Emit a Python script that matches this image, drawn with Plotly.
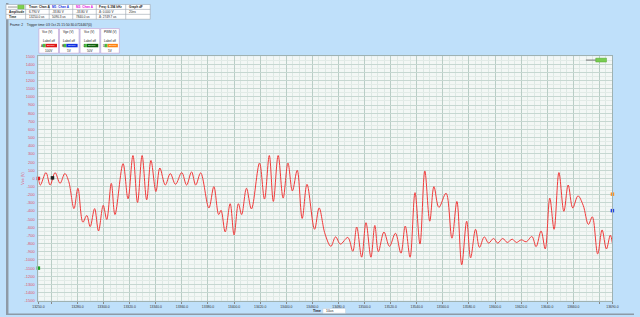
import plotly.graph_objects as go

W, H = 640, 317

# ---------------- data ----------------
time_us = [13250.0, 13251.5, 13255.8, 13259.0, 13262.8, 13266.6, 13270.3, 13273.3, 13277.3, 13280.3,
           13284.1, 13287.1, 13289.7, 13293.1, 13296.1, 13299.7, 13302.4, 13305.9, 13308.7, 13314.9,
           13318.7, 13322.5, 13326.0, 13329.5, 13333.0, 13336.3, 13340.1, 13343.1, 13347.3, 13351.1,
           13355.1, 13359.9, 13363.6, 13367.4, 13370.6, 13374.4, 13380.7, 13384.5, 13388.2, 13390.0,
           13393.2, 13397.0, 13400.0, 13403.3, 13405.8, 13409.5, 13413.3, 13419.5, 13423.3, 13427.0,
           13430.1, 13433.8, 13437.6, 13441.3, 13444.7, 13448.4, 13452.2, 13455.9, 13461.7, 13465.2,
           13469.7, 13474.2, 13477.8, 13481.5, 13487.2, 13491.0, 13494.0, 13497.8, 13501.1, 13504.9,
           13507.9, 13510.6, 13514.9, 13519.1, 13523.7, 13527.9, 13531.2, 13534.9, 13538.7, 13542.5,
           13546.2, 13550.0, 13553.2, 13557.0, 13562.5, 13567.0, 13570.8, 13574.5, 13578.3, 13581.3,
           13585.1, 13588.1, 13591.8, 13595.1, 13598.9, 13602.1, 13605.9, 13609.4, 13613.2, 13616.4,
           13620.2, 13623.9, 13628.3, 13631.5, 13635.3, 13638.5, 13642.0, 13645.3, 13649.0, 13652.8,
           13656.1, 13659.6, 13663.6, 13667.6, 13671.6, 13674.6, 13678.7, 13682.1, 13685.4, 13688.4,
           13690.0]
vce_v = [0, -81, 72, -81, 72, -60, 60, -40, -370, -121,
         -536, -455, -591, -370, -644, -330, -503, -60, -443, 181,
         -250, 281, -294, 281, -262, 221, -161, 128, -81, 60,
         -72, 72, -81, 80, -81, 68, -362, -101, -443, -391,
         -656, -310, -693, -310, -443, -121, -374, 188, -253, 281,
         -282, 281, -241, 188, -153, 100, -491, -72, -624, -362,
         -680, -833, -717, -805, -724, -893, -596, -966, -543, -966,
         -576, -898, -657, -833, -672, -917, -584, -966, -174, -805,
         92, -524, -101, -355, -181, -733, -282, -1059, -524, -974,
         -624, -845, -717, -793, -736, -793, -736, -785, -745, -785,
         -753, -777, -712, -837, -644, -865, -241, -624, 72, -403,
         -81, -362, -214, -330, -564, -471, -926, -632, -865, -696,
         -797]

x_ticks = [13250, 13260] + list(range(13280, 13681, 20)) + [13690]
x_tick_text = ["13250.0", ""] + ["%.1f" % v for v in range(13280, 13661, 20)] + ["", "13690.0"]
y_ticks = list(range(-1500, 1501, 100))
y_tick_text = [str(v) for v in y_ticks]

# channel offset markers (time, value, colour)
marker_t = [13250.0, 13260.8, 13250.0, 13690.0, 13690.0]
marker_v = [0, 7, -1100, -193, -395]
marker_c = ["#e02020", "#202020", "#20a020", "#ff9020", "#2040e0"]

header_cols = ["Trace: Chan A", "M1: Chan A", "M2: Chan A", "Freq: 6.394 kHz", "Graph dF"]
header_amp = ["6.790 V", "-33.80 V", "-33.80 V", "Δ: 0.000 V", "20ns"]
header_time = ["13250.0 us", "5090.3 us", "7840.0 us", "Δ: 2749.7 us", ""]
chan_titles = ["Vce (V)", "Vge (V)", "Vce (V)", "PWM (V)"]
chan_letters = ["A", "B", "C", "D"]
chan_colors = ["#e01818", "#1030e0", "#106010", "#ff8010"]
chan_scales = ["100V", "5V", "50V", "5V"]

# ---------------- figure ----------------
def px(x):
    return x / W

def py(y):
    return 1 - y / H

FONT = "Liberation Sans"

fig = go.Figure()
fig.add_trace(go.Scatter(x=time_us, y=vce_v, mode="lines",
                         line=dict(color="#f03a3a", width=1, shape="spline", smoothing=1.0),
                         hoverinfo="skip", showlegend=False))
fig.add_trace(go.Scatter(x=marker_t, y=marker_v, mode="markers",
                         marker=dict(color=marker_c, size=3.5, symbol="square", line=dict(width=0)),
                         cliponaxis=False, hoverinfo="skip", showlegend=False))

shapes = []
ann = []

# left gray strip and bottom line
shapes.append(dict(type="rect", xref="paper", yref="paper", x0=0, x1=px(2.5), y0=0, y1=1,
                   fillcolor="#8e9aa6", line=dict(width=0), layer="above"))
shapes.append(dict(type="rect", xref="paper", yref="paper", x0=0, x1=1, y0=0, y1=py(315.5),
                   fillcolor="#8e9aa6", line=dict(width=0), layer="above"))

# header table
col_x = [0, 20, 44, 68, 92, 122, 147]
row_y = [1.5, 6.5, 11.5, 16.5]
shapes.append(dict(type="rect", xref="paper", yref="paper", x0=px(col_x[0]), x1=px(col_x[-1]),
                   y0=py(row_y[-1]), y1=py(row_y[0]), fillcolor="#ffffff",
                   line=dict(color="#9aa4b0", width=0.6)))
for cx in col_x[1:-1]:
    shapes.append(dict(type="line", xref="paper", yref="paper", x0=px(cx), x1=px(cx),
                       y0=py(row_y[-1]), y1=py(row_y[0]), line=dict(color="#9aa4b0", width=0.6)))
for ry in row_y[1:-1]:
    shapes.append(dict(type="line", xref="paper", yref="paper", x0=px(col_x[0]), x1=px(col_x[-1]),
                       y0=py(ry), y1=py(ry), line=dict(color="#9aa4b0", width=0.6)))
# green toggle in first header cell
shapes.append(dict(type="rect", xref="paper", yref="paper", x0=px(12), x1=px(18.5),
                   y0=py(6), y1=py(2.2), fillcolor="#7ed04a", line=dict(color="#4a9a2a", width=0.4)))
shapes.append(dict(type="line", xref="paper", yref="paper", x0=px(2), x1=px(11.5),
                   y0=py(4.1), y1=py(4.1), line=dict(color="#555555", width=0.6)))
hdr_colors = ["#222222", "#1030e0", "#e010e0", "#222222", "#222222"]
fs = 3.1
for i in range(5):
    xc = px(col_x[i + 1] + 1)
    ann.append(dict(x=xc, y=py(4.0), text="<b>" + header_cols[i] + "</b>", font=dict(size=fs, color=hdr_colors[i])))
    ann.append(dict(x=xc, y=py(9.0), text=header_amp[i], font=dict(size=fs, color="#222222")))
    ann.append(dict(x=xc, y=py(14.0), text=header_time[i], font=dict(size=fs, color="#222222")))
ann.append(dict(x=px(1), y=py(9.0), text="<b>Amplitude</b>", font=dict(size=fs, color="#222222")))
ann.append(dict(x=px(1), y=py(14.0), text="<b>Time</b>", font=dict(size=fs, color="#222222")))

ann.append(dict(x=px(2), y=py(22.7), text="Frame: 2    Trigger time: 03 Oct 25 15:50:30.0724467(0)",
                font=dict(size=3.3, color="#222222")))

# channel boxes
bx = [33, 54, 75, 96, 116]
for i in range(4):
    x0, x1 = bx[i] + 0.5, bx[i + 1] - 0.5
    shapes.append(dict(type="rect", xref="paper", yref="paper", x0=px(x0), x1=px(x1),
                       y0=py(51), y1=py(26), fillcolor="#ffffff",
                       line=dict(color="#c8a8d8", width=0.7)))
    ann.append(dict(x=px(x0 + 1.5), y=py(29), text=chan_titles[i], font=dict(size=3.1, color="#222222")))
    ann.append(dict(x=px((x0 + x1) / 2), y=py(38.5), text="Label off", font=dict(size=3.1, color="#222222"),
                    xanchor="center"))
    ann.append(dict(x=px(x0 + 0.5), y=py(43.3), text=chan_letters[i], font=dict(size=3.1, color="#222222")))
    shapes.append(dict(type="rect", xref="paper", yref="paper", x0=px(x0 + 4), x1=px(x0 + 7),
                       y0=py(45), y1=py(41.5), fillcolor="#50c040", line=dict(width=0)))
    shapes.append(dict(type="rect", xref="paper", yref="paper", x0=px(x0 + 7), x1=px(x1 - 1.5),
                       y0=py(45), y1=py(41.5), fillcolor=chan_colors[i], line=dict(width=0)))
    ann.append(dict(x=px(x0 + 12.5), y=py(43.3), text="Source", font=dict(size=2.4, color="#ffffff"),
                    xanchor="center"))
    ann.append(dict(x=px((x0 + x1) / 2), y=py(48.3), text=chan_scales[i], font=dict(size=3.1, color="#222222"),
                    xanchor="center"))

# legend glyph top-right
shapes.append(dict(type="line", xref="paper", yref="paper", x0=px(591), x1=px(602),
                   y0=py(58), y1=py(58), line=dict(color="#555555", width=0.8)))
shapes.append(dict(type="rect", xref="paper", yref="paper", x0=px(601), x1=px(612),
                   y0=py(60), y1=py(56), fillcolor="#78cc50", line=dict(color="#4a9a2a", width=0.4)))

# y axis title
ann.append(dict(x=px(18), y=py(178), text="Vce (V)", textangle=-90, xanchor="center",
                font=dict(size=3.8, color="#e0506a")))

# bottom time control
ann.append(dict(x=px(317), y=py(313), text="<b>Time</b>", xanchor="center",
                font=dict(size=3.4, color="#222222")))
shapes.append(dict(type="rect", xref="paper", yref="paper", x0=px(323), x1=px(346),
                   y0=py(315.2), y1=py(310.5), fillcolor="#ffffff", line=dict(color="#c0c8d0", width=0.4)))
ann.append(dict(x=px(330), y=py(313), text="10us", xanchor="center",
                font=dict(size=3.4, color="#222222")))

for a in ann:
    a.setdefault("xref", "paper")
    a.setdefault("yref", "paper")
    a.setdefault("xanchor", "left")
    a.setdefault("yanchor", "middle")
    a["showarrow"] = False

fig.update_layout(
    width=W, height=H,
    margin=dict(l=0, r=0, t=0, b=0),
    paper_bgcolor="#bfe0fa",
    plot_bgcolor="#f3f7f5",
    font=dict(family=FONT),
    shapes=shapes,
    annotations=ann,
    xaxis=dict(domain=[33 / W, 618 / W], range=[13250, 13690],
               tickmode="array", tickvals=x_ticks, ticktext=x_tick_text,
               tickfont=dict(size=3.4, color="#333333"),
               ticks="outside", ticklen=2, tickcolor="#888888",
               showgrid=True, gridcolor="#b9cdc6", gridwidth=0.8,
               minor=dict(dtick=5, tick0=13250, showgrid=True, gridcolor="#dde8e4", gridwidth=0.6),
               zeroline=False, showline=True, linecolor="#9fb2b2", linewidth=0.8, mirror=True),
    yaxis=dict(domain=[1 - 302.5 / H, 1 - 54 / H], range=[-1500, 1500],
               tickmode="array", tickvals=y_ticks, ticktext=y_tick_text,
               tickfont=dict(size=4, color="#e0506a"),
               ticks="", ticklabelstandoff=2,
               showgrid=True, gridcolor="#c6d7d1", gridwidth=0.7,
               minor=dict(dtick=50, tick0=0, showgrid=True, gridcolor="#e2ebe7", gridwidth=0.5),
               zeroline=False, showline=True, linecolor="#9fb2b2", linewidth=0.8, mirror=True),
)

fig.write_html("out.html")
